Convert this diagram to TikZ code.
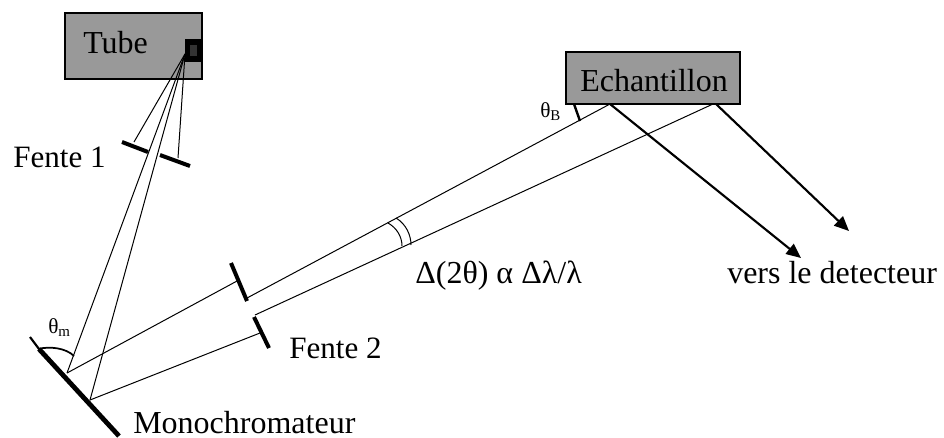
\documentclass[tikz,border=0pt]{standalone}
\usepackage{fontspec}
\setmainfont{Liberation Serif}
\usetikzlibrary{arrows.meta,positioning}
\definecolor{boxgray}{RGB}{153,153,153}
\definecolor{inkgray}{RGB}{51,51,51}

\begin{document}
\begin{tikzpicture}[
  x=0.75pt, y=-0.75pt,
  >={Triangle[length=11pt,width=9.5pt]},
  font=\fontsize{24}{28}\selectfont,
  lab/.style={anchor=base west, inner sep=0pt},
  fentelab/.style={lab, font=\fontsize{23.3}{28}\selectfont},
  smalllab/.style={anchor=base west, inner sep=0pt, font=\fontsize{16}{18}\selectfont},
  boxgr/.style={rectangle, draw=black, fill=boxgray, inner sep=0pt},
  ray/.style={line width=0.75pt},
  slit/.style={line width=3pt},
  beam/.style={->, line width=1.6pt},
]
\useasboundingbox (0,0) rectangle (944,437);

% Tube
\node[boxgr, line width=1.1pt, minimum width=102.5pt, minimum height=49.5pt] (tube) at (133.5,46) {};
\node[lab] (tubelab) at (83,53) {Tube};
\node[rectangle, fill=black, inner sep=0pt, minimum width=12.75pt, minimum height=17pt] (anode) at (193.5,50.5) {};
\node[rectangle, fill=inkgray, inner sep=0pt, minimum width=5pt, minimum height=8.25pt] (focus) at (193.5,50.5) {};

% Echantillon
\node[boxgr, line width=1.8pt, minimum width=130.5pt, minimum height=39pt] (ech) at (653,78) {};
\node[lab] (echlab) at (580,91.5) {Echantillon};

% Points on the beams
\coordinate (src) at (185,54);
\coordinate (fa) at (134,142);
\coordinate (fb) at (178,158);
\coordinate (ma) at (67,373);
\coordinate (mb) at (90,400);
\coordinate (sa) at (237,281);
\coordinate (sb) at (247,298);
\coordinate (sc) at (255,315);
\coordinate (sd) at (260,333);
\coordinate (ea) at (610,104);
\coordinate (eb) at (713,104);
\coordinate (ec) at (716,104);
\coordinate (da) at (801,258);
\coordinate (db) at (849,231);

% Tube to Fente 1 and monochromateur
\draw[ray] (src) -- (fa);
\draw[ray] (src) -- (fb);
\draw[ray] (src) -- (ma);
\draw[ray] (src) -- (mb);

% Fente 1
\coordinate (f1a) at (122,142);
\coordinate (f1b) at (148,152);
\coordinate (f1c) at (160,155);
\coordinate (f1d) at (190,166);
\draw[slit] (f1a) -- (f1b);
\draw[slit] (f1c) -- (f1d);
\node[fentelab] (fente1) at (13,167) {Fente 1};

% Monochromateur
\coordinate (m0) at (30,337);
\coordinate (m1) at (39,349);
\coordinate (m2) at (119,436);
\draw[line width=1.6pt] (m0) -- (m1);
\draw[line width=3.6pt] (m1) -- (m2);
\node[lab] (mono) at (133,433) {Monochromateur};

% Monochromateur to Fente 2 to echantillon
\draw[ray] (ma) -- (sa);
\draw[ray] (mb) -- (sd);
\draw[ray] (sb) -- (ea);
\draw[ray] (sc) -- (eb);

% Fente 2
\coordinate (f2a) at (231,263);
\coordinate (f2b) at (247,301);
\coordinate (f2c) at (254,317);
\coordinate (f2d) at (269,348);
\draw[slit] (f2a) -- (f2b);
\draw[slit] (f2c) -- (f2d);
\node[fentelab] (fente2) at (289,358) {Fente 2};

% Angles
\coordinate (aa) at (388,223);
\coordinate (ab) at (402,246);
\coordinate (ac) at (396,218);
\coordinate (ad) at (411,245);
\draw[ray] (aa) .. controls (397,228) and (402,237) .. (ab);
\draw[ray] (ac) .. controls (406,224) and (411,235) .. (ad);
\node[lab] (delta) at (415,283) {Δ(2θ) α Δλ/λ};

\coordinate (tm) at (38,349);
\coordinate (tn) at (74,356);
\draw[line width=1.3pt] (tm) .. controls (50,346) and (66,348) .. (tn);
\node[smalllab] (thetam) at (48,333) {θ\textsubscript{m}};

\coordinate (tb) at (574,104);
\coordinate (tc) at (580,121);
\draw[line width=1.8pt] (tb) -- (tc);
\node[smalllab] (thetab) at (540,117) {θ\textsubscript{B}};

% Vers le detecteur
\draw[beam] (ea) -- (da);
\draw[beam] (ec) -- (db);
\node[lab] (det) at (727,283) {vers le detecteur};
\end{tikzpicture}
\end{document}
